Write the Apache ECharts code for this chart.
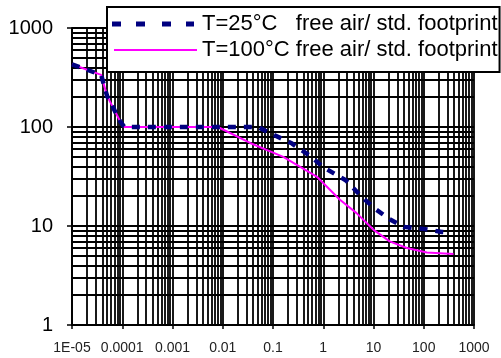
<!DOCTYPE html>
<html>
<head>
<meta charset="utf-8">
<script src="https://cdn.jsdelivr.net/npm/echarts@6/dist/echarts.min.js"></script>
<style>
  html, body { margin: 0; padding: 0; background: #fff; }
  #chart { width: 501px; height: 358px; }
</style>
</head>
<body>
<div id="chart"></div>
<script>
// Tick labels for the two logarithmic axes (one per decade)
const xTickLabels = ['1E-05', '0.0001', '0.001', '0.01', '0.1', '1', '10', '100', '1000'];
const yTickLabels = ['1', '10', '100', '1000'];

// Legend / series names
const seriesNames = ['T=25°C   free air/ std. footprint', 'T=100°C free air/ std. footprint'];

// Curve at T = 25 °C: time and value pairs
const time25 = [1e-5, 3.8e-5, 5e-5, 7e-5, 9e-5, 1.1e-4, 0.05, 0.1, 0.24, 0.55, 1, 2.8, 6.2, 11, 21, 40, 107, 228, 300];
const value25 = [430, 336, 205, 148, 115, 100, 100, 84, 68, 51, 39.3, 29, 19.1, 14.8, 11.7, 9.8, 9.3, 8.7, 8.6];

// Curve at T = 100 °C: time and value pairs
const time100 = [1e-5, 3.8e-5, 5e-5, 7e-5, 9e-5, 1.1e-4, 0.008, 0.035, 0.16, 0.74, 2.15, 4.6, 9.9, 21, 46, 115, 390];
const value100 = [430, 336, 205, 148, 115, 100, 100, 69, 50, 31.6, 18.4, 13.5, 9.2, 7.0, 6.0, 5.4, 5.2];

const pairs = (xs, ys) => xs.map((x, i) => [x, ys[i]]);

const gridLine = { color: '#000', width: 1.8 };
const FONT = 'Liberation Sans, Arial, sans-serif';

const chart = echarts.init(document.getElementById('chart'), null, { renderer: 'canvas' });

chart.setOption({
  animation: false,
  backgroundColor: '#fff',
  grid: { left: 72, right: 27, top: 28, bottom: 33, containLabel: false },
  xAxis: {
    type: 'log',
    logBase: 10,
    min: 1e-5,
    max: 1000,
    interval: 1,
    axisLine: { show: true, lineStyle: { color: '#000', width: 1.8 } },
    axisTick: { show: true, inside: false, length: 4, lineStyle: { color: '#000', width: 1.5 } },
    axisLabel: {
      show: true,
      margin: 16,
      fontFamily: FONT,
      fontSize: 14,
      color: '#222',
      formatter: v => xTickLabels[Math.round(Math.log10(v)) + 5]
    },
    splitLine: { show: true, lineStyle: gridLine },
    minorTick: { show: false, splitNumber: 9 },
    minorSplitLine: { show: true, lineStyle: gridLine }
  },
  yAxis: {
    type: 'log',
    logBase: 10,
    min: 1,
    max: 1000,
    interval: 1,
    axisLine: { show: true, lineStyle: { color: '#000', width: 1.8 } },
    axisTick: { show: true, inside: false, length: 5, lineStyle: { color: '#000', width: 1.5 } },
    axisLabel: {
      show: true,
      margin: 19,
      fontFamily: FONT,
      fontSize: 20,
      color: '#000',
      formatter: v => yTickLabels[Math.round(Math.log10(v))]
    },
    splitLine: { show: true, lineStyle: gridLine },
    minorTick: { show: false, splitNumber: 9 },
    minorSplitLine: { show: true, lineStyle: gridLine }
  },
  legend: {
    show: true,
    orient: 'vertical',
    left: 107,
    top: 7,
    padding: [4, 2, 9, 5],
    itemGap: 0,
    itemWidth: 85,
    itemHeight: 5,
    selectedMode: false,
    backgroundColor: '#fff',
    borderColor: '#000',
    borderWidth: 2,
    textStyle: { fontFamily: FONT, fontSize: 22, color: '#000', lineHeight: 26 },
    data: [
      { name: seriesNames[0], icon: 'path://M0,0h9v5h-9zM24,0h9v5h-9zM50,0h9v5h-9zM74,0h8v5h-8zM85,5' },
      { name: seriesNames[1], icon: 'path://M0,0M2,1.5h83v2h-83zM85,5' }
    ]
  },
  series: [
    {
      name: seriesNames[0],
      type: 'line',
      data: pairs(time25, value25),
      showSymbol: false,
      symbol: 'none',
      color: '#000080',
      itemStyle: { color: '#000080' },
      lineStyle: { color: '#000080', width: 4.5, type: [8, 8], cap: 'butt' },
      z: 3
    },
    {
      name: seriesNames[1],
      type: 'line',
      data: pairs(time100, value100),
      showSymbol: false,
      symbol: 'none',
      color: '#ff00ff',
      itemStyle: { color: '#ff00ff' },
      lineStyle: { color: '#ff00ff', width: 2 },
      z: 2
    }
  ]
});
</script>
</body>
</html>
